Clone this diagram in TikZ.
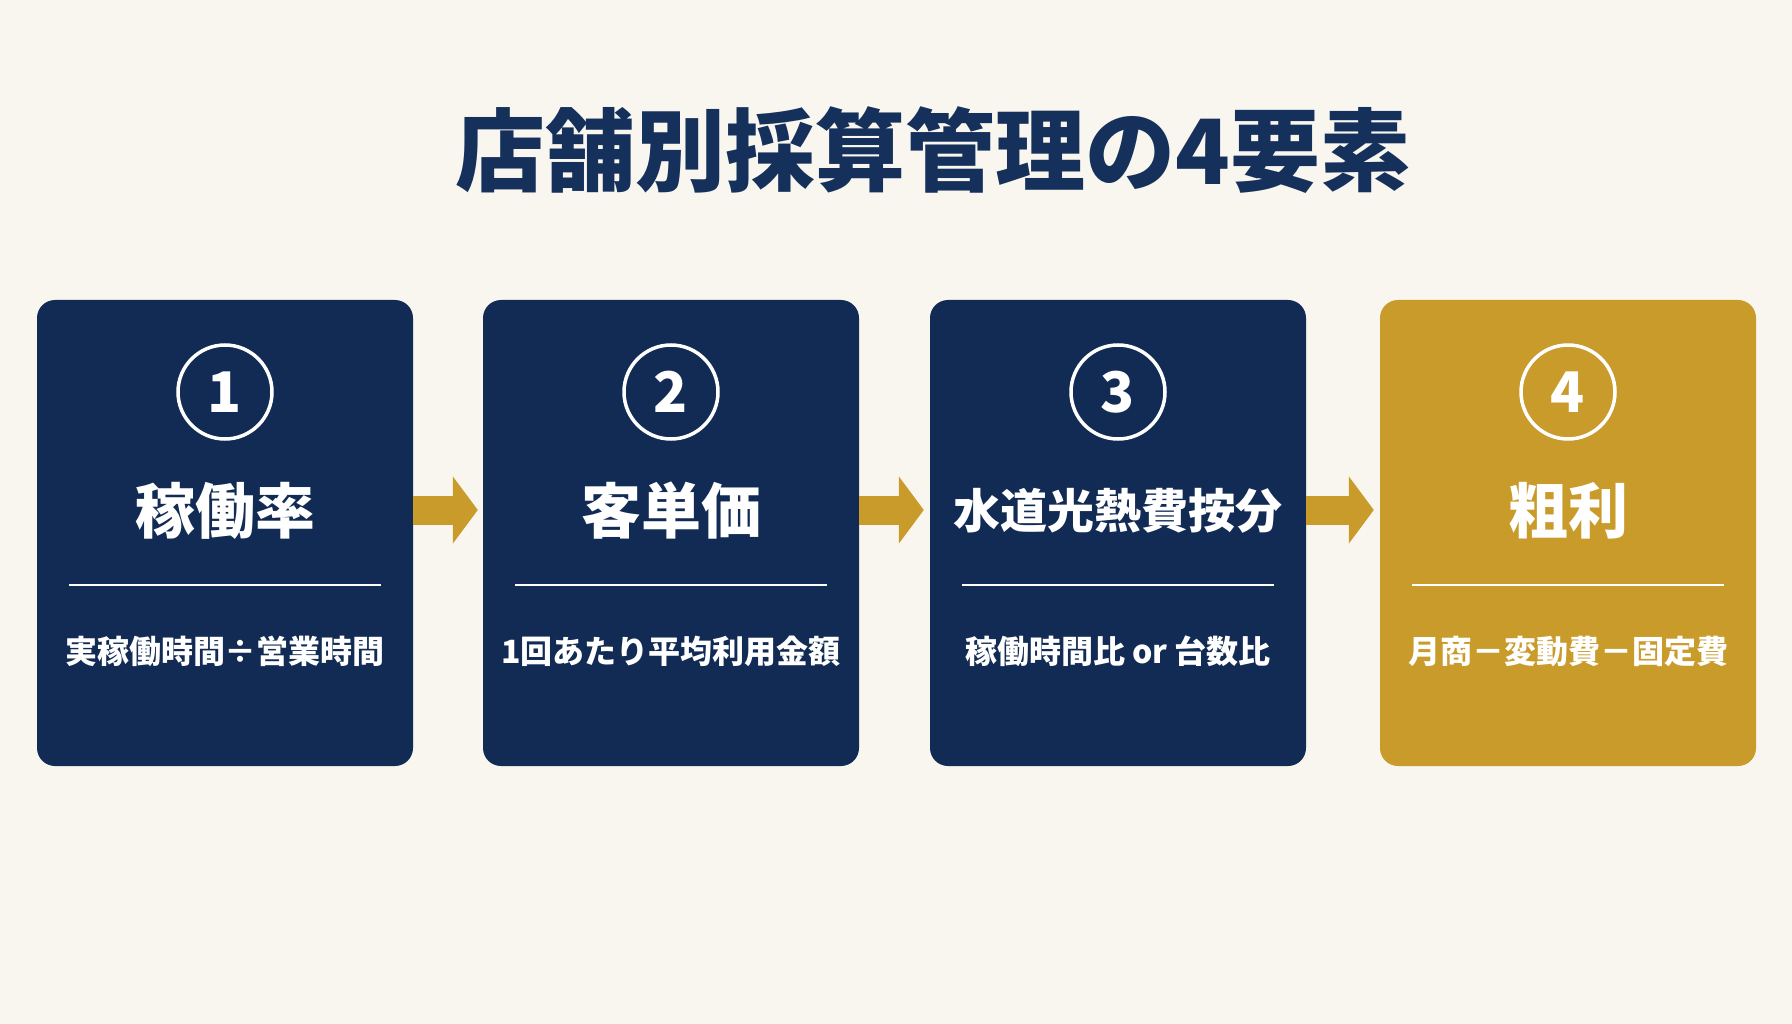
\documentclass[tikz,border=0pt]{standalone}
\usepackage{fontspec}
\setmainfont{Noto Sans CJK JP}
\usetikzlibrary{arrows.meta,calc}
\definecolor{bgc}{HTML}{F9F6EF}
\definecolor{navy}{HTML}{122B54}
\definecolor{gold}{HTML}{C99B2B}
\definecolor{titlec}{HTML}{15305A}
\tikzset{
  card/.style={rounded corners=18pt, minimum width=376pt, minimum height=466pt, inner sep=0pt, draw=none},
  numcirc/.style={circle, draw=white, line width=3.5pt, minimum size=94pt, inner sep=0pt, text=white, font=\bfseries\fontsize{56}{60}\selectfont},
  headtxt/.style={text=white, inner sep=0pt, font=\bfseries\fontsize{#1}{#1}\selectfont},
  subtxt/.style={text=white, inner sep=0pt, font=\bfseries\fontsize{32}{34}\selectfont},
  divider/.style={draw=white, line width=2.5pt},
  flow/.style={draw=gold, line width=29pt, -{Triangle[length=25pt,width=66pt]}}
}
\begin{document}
\begin{tikzpicture}[x=1pt,y=-1pt]
\fill[bgc] (0,0) rectangle (1792,1024);
\useasboundingbox (0,0) rectangle (1792,1024);
\node[text=titlec, inner sep=0pt, font=\bfseries\fontsize{90}{92}\selectfont] (title) at (933,150) {店舗別採算管理の4要素};
\foreach \i/\cx/\col/\num/\head/\hs/\sub in {
  1/225/navy/1/稼働率/60/実稼働時間÷営業時間,
  2/671/navy/2/客単価/60/1回あたり平均利用金額,
  3/1118/navy/3/水道光熱費按分/47/稼働時間比 or 台数比,
  4/1568/gold/4/粗利/60/月商－変動費－固定費}{
  \node[card, fill=\col] (b\i) at (\cx,533) {};
  \node[numcirc] (n\i) at (\cx,392) {\num};
  \node[headtxt=\hs] (h\i) at (\cx,511) {\head};
  \coordinate (dl\i) at (\cx-156,585);
  \coordinate (dr\i) at (\cx+156,585);
  \draw[divider] (dl\i) -- (dr\i);
  \node[subtxt] (s\i) at (\cx,651) {\sub};
}
\draw[flow] ([yshift=23pt]b1.east) -- ([yshift=23pt,xshift=-5pt]b2.west);
\draw[flow] ([yshift=23pt]b2.east) -- ([yshift=23pt,xshift=-6pt]b3.west);
\draw[flow] ([yshift=23pt]b3.east) -- ([yshift=23pt,xshift=-6pt]b4.west);
\end{tikzpicture}
\end{document}
